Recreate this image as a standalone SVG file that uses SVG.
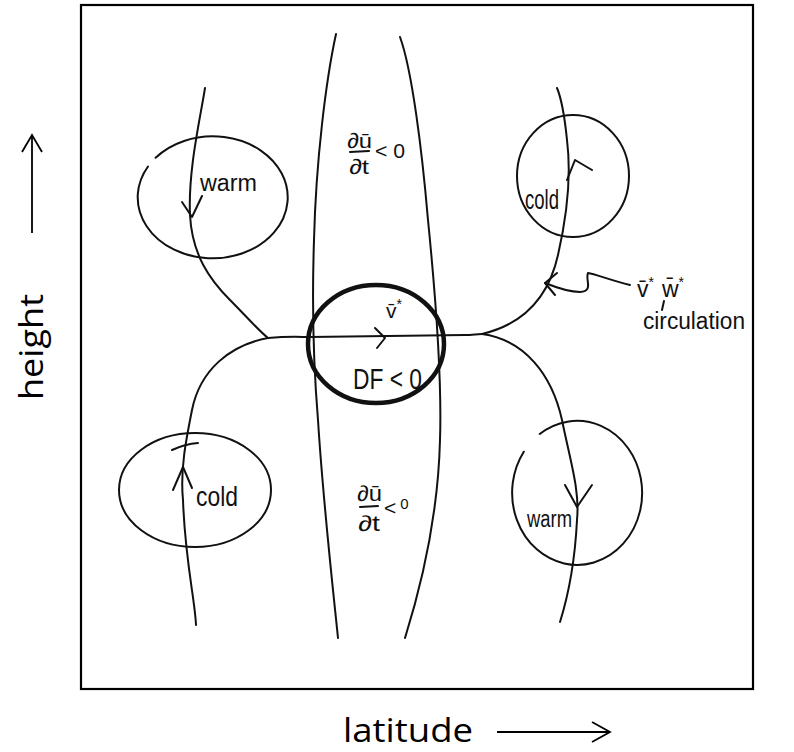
<svg xmlns="http://www.w3.org/2000/svg" width="794" height="752" viewBox="0 0 794 752">
<style>
.ln{fill:none;stroke:#111;stroke-width:2;stroke-linecap:round;stroke-linejoin:round}
.thick{fill:none;stroke:#111;stroke-width:4.5}
.hw{font-family:"Liberation Sans","DejaVu Sans",sans-serif;fill:#111}
.ax{font-family:"Open Sans","Liberation Sans",sans-serif;fill:#000}
</style>
<rect width="794" height="752" fill="#fff"/>
<rect x="81" y="5" width="672" height="684" fill="none" stroke="#000" stroke-width="2.2"/>

<g id="axis-height">
<line x1="32" y1="135" x2="32" y2="233" stroke="#000" stroke-width="1.8"/>
<polyline points="22,152 32,135 42,152" fill="none" stroke="#000" stroke-width="1.8"/>
<text class="ax" transform="translate(43,347) rotate(-90)" text-anchor="middle" font-size="33" textLength="106" lengthAdjust="spacingAndGlyphs">height</text>
</g>
<g id="axis-latitude">
<text class="ax" x="343" y="742" font-size="32" textLength="130" lengthAdjust="spacingAndGlyphs">latitude</text>
<line x1="497" y1="732" x2="610" y2="732" stroke="#000" stroke-width="1.8"/>
<polyline points="592,722 610,732 592,742" fill="none" stroke="#000" stroke-width="1.8"/>
</g>

<g id="channel">
<path class="ln" d="M336,34 C326,80 316,160 314,240 C312,300 313,360 318,420 C323,500 332,580 338,638"/>
<path class="ln" d="M400,37 C412,70 422,150 428,220 C436,300 442,380 440,440 C438,520 420,590 405,638"/>
<g id="dudt-top">
<text class="hw" x="347" y="148" font-size="21" textLength="25" lengthAdjust="spacingAndGlyphs">∂ū</text>
<line class="ln" x1="350" y1="152" x2="369" y2="151" stroke-width="1.6"/>
<text class="hw" x="349" y="174" font-size="21" textLength="20" lengthAdjust="spacingAndGlyphs">∂t</text>
<text class="hw" x="375" y="158" font-size="21" textLength="30" lengthAdjust="spacingAndGlyphs">&lt; 0</text>
</g>
<g id="dudt-bottom">
<text class="hw" x="357" y="501" font-size="22" textLength="25" lengthAdjust="spacingAndGlyphs">∂ū</text>
<line class="ln" x1="360" y1="507" x2="378" y2="506" stroke-width="1.6"/>
<text class="hw" x="358" y="531" font-size="22" textLength="22" lengthAdjust="spacingAndGlyphs">∂t</text>
<text class="hw" x="384" y="515" font-size="21">&lt;<tspan font-size="15" dx="4" dy="-6">0</tspan></text>
</g>
</g>

<g id="center-circle">
<ellipse class="thick" cx="376" cy="344" rx="68" ry="59"/>
<text class="hw" x="386" y="318" font-size="21" font-family="DejaVu Sans">v̄<tspan font-size="14" dy="-9">*</tspan></text>
<text class="hw" x="353" y="389" font-size="29" textLength="69" lengthAdjust="spacingAndGlyphs">DF &lt; 0</text>
</g>

<g id="warm-top-left">
<path class="ln" d="M155.6,157.8 A75,61 0 1 1 148.0,166.5"/>
<text class="hw" x="200" y="191" font-size="23" textLength="57" lengthAdjust="spacingAndGlyphs">warm</text>
</g>
<g id="cold-top-right">
<ellipse class="ln" cx="573" cy="176" rx="56" ry="61"/>
<text class="hw" x="525" y="209" font-size="27" textLength="34" lengthAdjust="spacingAndGlyphs">cold</text>
</g>
<g id="cold-bottom-left">
<ellipse class="ln" cx="195" cy="490" rx="76" ry="57"/>
<path class="ln" d="M172,450 Q185,444 198,443"/>
<text class="hw" x="196" y="506" font-size="27" textLength="42" lengthAdjust="spacingAndGlyphs">cold</text>
</g>
<g id="warm-bottom-right">
<path class="ln" d="M539.7,434 A65,72 0 1 1 523.8,451.7"/>
<text class="hw" x="527" y="527" font-size="23" textLength="45" lengthAdjust="spacingAndGlyphs">warm</text>
</g>

<g id="annotation">
<text class="hw" x="637" y="297" font-size="23" font-family="DejaVu Sans">v̄<tspan font-size="14" dy="-10">*</tspan><tspan dx="8" dy="10">w̄</tspan><tspan font-size="14" dy="-10">*</tspan></text>
<line class="ln" x1="664" y1="301" x2="662" y2="310" stroke-width="1.6"/>
<text class="hw" x="643" y="329" font-size="23" textLength="102" lengthAdjust="spacingAndGlyphs">circulation</text>
</g>

<g id="connectors">
<path class="ln" d="M205,88 C200,120 188,170 190,215 C192,255 210,280 230,300 C245,315 258,330 268,338"/>
<path class="ln" d="M268,338 C290,336 300,337 310,337 L465,335 C472,335 477,334 482,334"/>
<path class="ln" d="M268,338 C230,345 200,370 192,410 C186,440 180,470 183,500 C185,560 195,600 196,625"/>
<path class="ln" d="M482,334 C520,325 548,300 558,255 C566,220 572,180 567,140 C565,120 562,100 557,88"/>
<path class="ln" d="M482,334 C525,340 552,375 562,420 C570,460 580,490 577,520 C575,560 570,590 560,622"/>
<path class="ln" d="M630,285 C610,280 595,274 588,273 C585,280 594,291 580,292 C570,292 555,287 545,283"/>
<polyline class="ln" points="182,202 192,217 202,196"/>
<polyline class="ln" points="567,180 575,160 592,170"/>
<polyline class="ln" points="375,328 385,338 377,348"/>
<polyline class="ln" points="173,490 183,467 192,488"/>
<polyline class="ln" points="565,485 577,507 592,485"/>
<polyline class="ln" points="557,273 545,283 555,295"/>
</g>
</svg>
